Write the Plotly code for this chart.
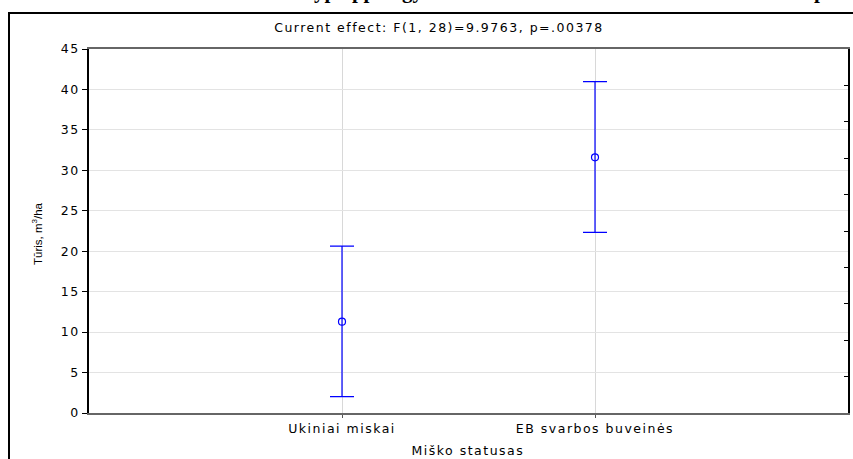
import plotly.graph_objects as go

categories = ["Ukiniai miskai", "EB svarbos buveinės"]
cat_pos = [1, 2]
means = [11.29, 31.61]
upper = [20.64, 40.96]
lower = [2.02, 22.34]
y_ticks = [0, 5, 10, 15, 20, 25, 30, 35, 40, 45]

err_plus = [u - m for u, m in zip(upper, means)]
err_minus = [m - l for m, l in zip(means, lower)]

BLUE = "#0000ff"
FONT = "DejaVu Sans, Arial, sans-serif"
SERIF = "Liberation Serif, Times New Roman, serif"

fig = go.Figure()
fig.add_trace(go.Scatter(
    x=cat_pos, y=means, mode="markers",
    marker=dict(symbol="circle-open", size=7, color=BLUE, line=dict(width=1.2, color=BLUE)),
    error_y=dict(type="data", symmetric=False, array=err_plus, arrayminus=err_minus,
                 color=BLUE, thickness=1.2, width=12),
    showlegend=False, hoverinfo="skip",
))
fig.add_trace(go.Scatter(x=[1], y=[0], yaxis="y2", mode="markers",
                         marker=dict(opacity=0), showlegend=False, hoverinfo="skip"))

L, R, T, B = 89, 5, 49, 46
W, H = 853, 459
pw, ph = W - L - R, H - T - B

def px(x):
    return (x - L) / pw

def py(y):
    return (H - B - y) / ph

fig.update_layout(
    width=W, height=H,
    margin=dict(l=L, r=R, t=T, b=B, pad=0),
    paper_bgcolor="white", plot_bgcolor="white",
    font=dict(family=FONT, size=12, color="black"),
    xaxis=dict(
        range=[0, 3], tickvals=cat_pos, ticktext=categories,
        showgrid=True, gridcolor="#d8d8d8", gridwidth=1,
        showline=True, linecolor="#666666", linewidth=1.5, mirror=True,
        ticks="outside", ticklen=3, tickcolor="#555555",
        tickfont=dict(size=12.5, family=FONT),
        zeroline=False, fixedrange=True, automargin=False,
    ),
    yaxis=dict(
        range=[0, 45], tickvals=y_ticks,
        showgrid=True, gridcolor="#e3e3e3", gridwidth=1,
        showline=True, linecolor="black", linewidth=1.5, mirror=True,
        ticks="outside", ticklen=5, tickcolor="black",
        tickfont=dict(size=12.5, family=FONT),
        zeroline=False, fixedrange=True, automargin=False,
    ),
    yaxis2=dict(
        range=[0, 10], dtick=1, overlaying="y", side="right",
        showgrid=False, showline=False, zeroline=False,
        ticks="inside", ticklen=4, tickcolor="black",
        showticklabels=False, fixedrange=True, automargin=False,
    ),
    annotations=[
        dict(text="Current effect: F(1, 28)=9.9763, p=.00378", xref="paper", yref="paper",
             x=px(439), y=py(28), xanchor="center", yanchor="middle", showarrow=False,
             font=dict(size=12.5, family=FONT)),
        dict(text="Miško statusas", xref="paper", yref="paper",
             x=px(468), y=py(450), xanchor="center", yanchor="middle", showarrow=False,
             font=dict(size=12.5, family=FONT)),
        dict(text="Tūris, m<sup>3</sup>/ha", xref="paper", yref="paper", textangle=-90,
             x=px(37), y=py(234), xanchor="center", yanchor="middle", showarrow=False,
             font=dict(size=11.5, family="Liberation Sans Narrow, Arial Narrow, Arial, sans-serif")),
        dict(text="typo ppology", xref="paper", yref="paper",
             x=px(305), y=py(5), xanchor="left", yanchor="bottom", showarrow=False,
             font=dict(size=21, family=SERIF, weight="bold")),
        dict(text="p", xref="paper", yref="paper",
             x=px(812), y=py(5), xanchor="left", yanchor="bottom", showarrow=False,
             font=dict(size=21, family=SERIF, weight="bold")),
    ],
    shapes=[
        dict(type="line", xref="paper", yref="paper", x0=px(9), x1=px(9), y0=py(13), y1=py(470),
             line=dict(color="black", width=2)),
        dict(type="line", xref="paper", yref="paper", x0=px(8), x1=px(870), y0=py(13), y1=py(13),
             line=dict(color="black", width=2)),
    ],
)

post = """
document.body.style.margin = '0';
document.body.style.padding = '0';
function spaceText() {
  var sel = '.xtick text, .ytick text, .annotation-text';
  document.querySelectorAll(sel).forEach(function (t) {
    var s = t.textContent;
    if (s.indexOf('Current') === 0 || s.indexOf('Mi') === 0 || /^[0-9]+$/.test(s) ||
        s.indexOf('Uki') === 0 || s.indexOf('EB') === 0) {
      t.style.letterSpacing = '1.5px';
    }
  });
}
spaceText();
setTimeout(spaceText, 0);
"""

fig.write_html("out.html", post_script=post, config={"displayModeBar": False})
